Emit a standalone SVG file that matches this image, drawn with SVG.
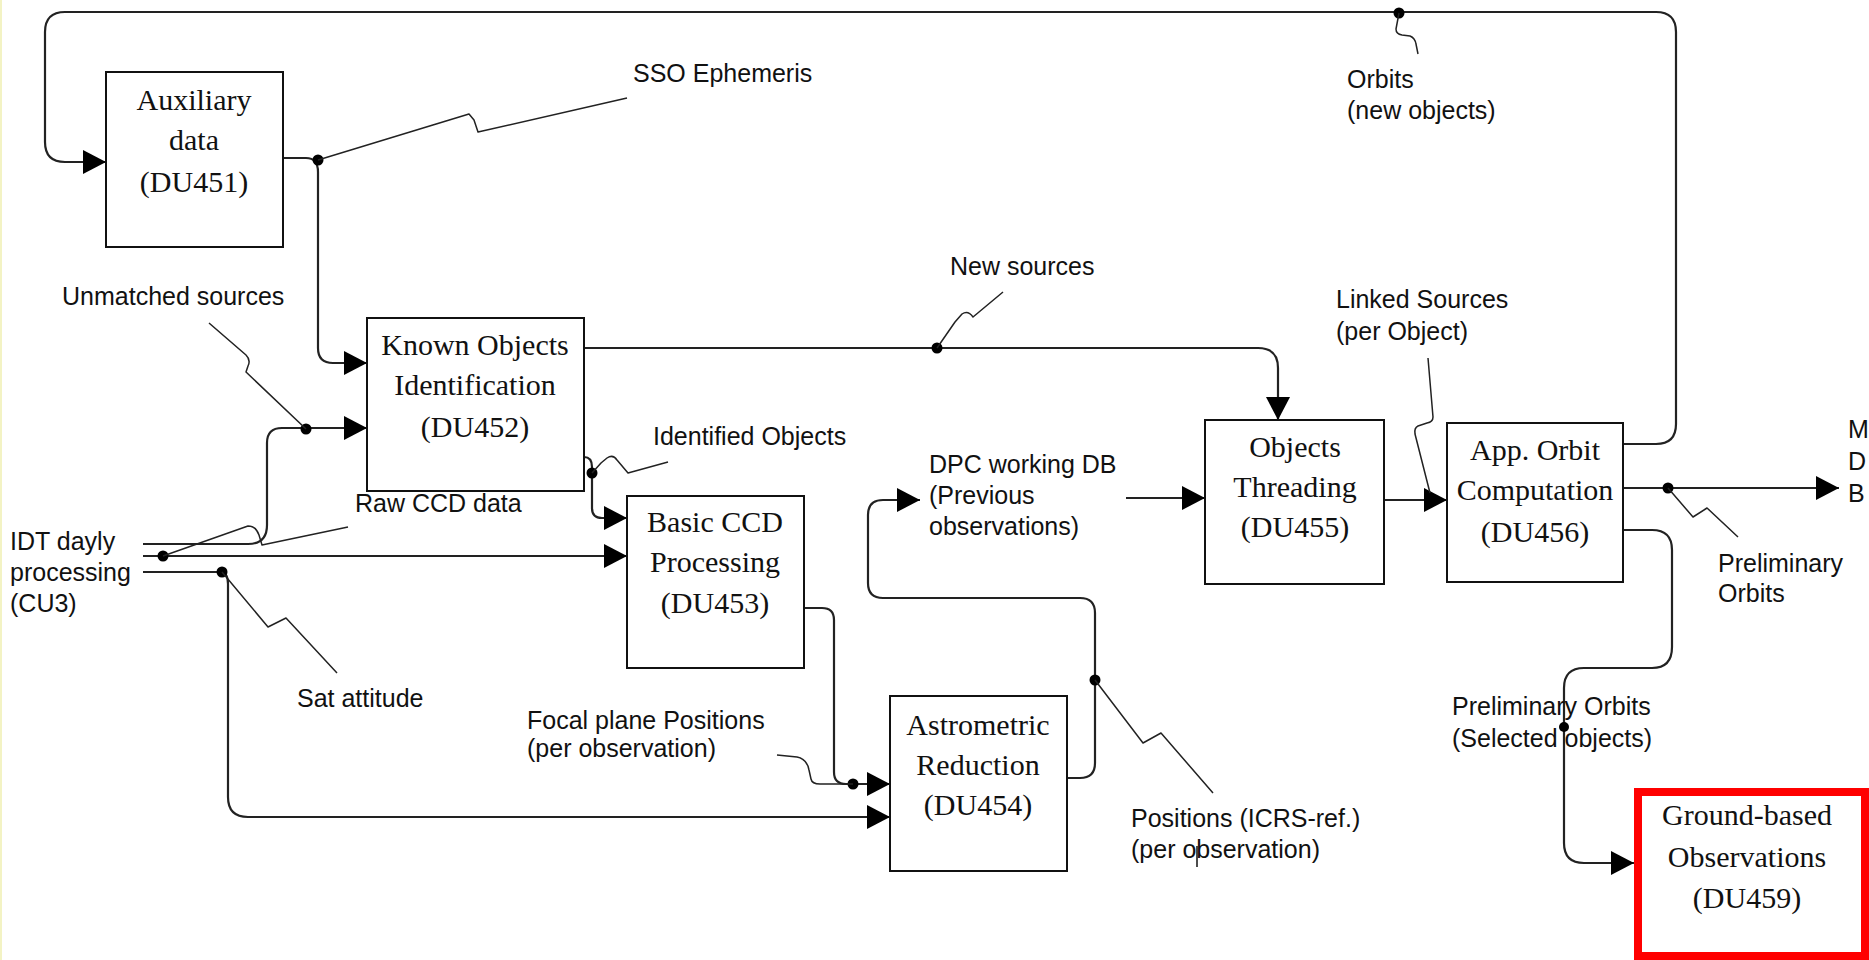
<svg xmlns="http://www.w3.org/2000/svg" width="1869" height="960" viewBox="0 0 1869 960">
  <style>
    .box { fill: #fff; stroke: #111; stroke-width: 2; }
    .box-red { fill: #fff; stroke: #f00; stroke-width: 8; }
    .name { font-family: "Liberation Serif", "Times New Roman", serif; font-size: 30px; fill: #111; text-anchor: middle; }
    .lbl { font-family: "Liberation Sans", Arial, sans-serif; font-size: 25px; fill: #111; }
    .flow { fill: none; stroke: #222; stroke-width: 2.2; }
    .flow-arrow { fill: none; stroke: #222; stroke-width: 2.2; marker-end: url(#tri); }
    .leader { fill: none; stroke: #222; stroke-width: 1.5; stroke-linejoin: round; }
    .dot { fill: #000; }
  </style>
  <defs>
    <marker id="tri" markerUnits="userSpaceOnUse" viewBox="0 0 23 24" markerWidth="23" markerHeight="24" refX="23" refY="12" orient="auto">
      <path d="M0,0 L23,12 L0,24 Z" fill="#000"/>
    </marker>
  </defs>

  <rect x="0" y="0" width="1869" height="960" fill="#fff"/>
  <rect x="0" y="0" width="2" height="960" fill="#f3f3c4"/>

  <!-- data flows -->
  <g id="connectors">
    <!-- orbits of new objects fed back to auxiliary data -->
    <path class="flow-arrow" d="M1623,444 H1656 Q1676,444 1676,424 V32 Q1676,12 1656,12 H65 Q45,12 45,32 V142 Q45,162 65,162 H106"/>
    <!-- auxiliary data to known objects identification -->
    <path class="flow-arrow" d="M283,158 H306 Q318,158 318,172 V348 Q318,363 333,363 H367"/>
    <!-- IDT outputs -->
    <path class="flow-arrow" d="M143,544 H248 Q267,544 267,525 V443 Q267,428 282,428 H367"/>
    <path class="flow-arrow" d="M143,556 H627"/>
    <path class="flow-arrow" d="M143,572 H220 Q228,572 228,584 V797 Q228,817 248,817 H890"/>
    <!-- new sources -->
    <path class="flow-arrow" d="M584,348 H1258 Q1278,348 1278,368 V420"/>
    <!-- identified objects -->
    <path class="flow-arrow" d="M584,457 Q592,457 592,467 V508 Q592,518 602,518 H627"/>
    <!-- basic CCD to astrometric reduction -->
    <path class="flow-arrow" d="M804,608 H822 Q834,608 834,620 V772 Q834,784 846,784 H890"/>
    <!-- positions into the DPC working DB -->
    <path class="flow-arrow" d="M1067,778 H1080 Q1095,778 1095,763 V613 Q1095,598 1080,598 H883 Q868,598 868,583 V515 Q868,500 883,500 H920"/>
    <!-- DPC working DB to threading -->
    <path class="flow-arrow" d="M1126,498 H1205"/>
    <!-- linked sources -->
    <path class="flow-arrow" d="M1384,500 H1447"/>
    <!-- preliminary orbits out -->
    <path class="flow-arrow" d="M1623,488 H1839"/>
    <!-- selected objects to ground-based observations -->
    <path class="flow-arrow" d="M1623,530 H1652 Q1672,530 1672,550 V647 Q1672,668 1652,668 H1584 Q1564,668 1564,688 V843 Q1564,863 1584,863 H1634"/>

    <!-- junction dots -->
    <circle class="dot" cx="1399" cy="13" r="5.5"/>
    <circle class="dot" cx="318" cy="160" r="5.5"/>
    <circle class="dot" cx="306" cy="429" r="5.5"/>
    <circle class="dot" cx="163" cy="556" r="5.5"/>
    <circle class="dot" cx="222" cy="572" r="5.5"/>
    <circle class="dot" cx="937" cy="348" r="5.5"/>
    <circle class="dot" cx="592" cy="473" r="5.5"/>
    <circle class="dot" cx="853" cy="784" r="5.5"/>
    <circle class="dot" cx="1095" cy="680" r="5.5"/>
    <circle class="dot" cx="1668" cy="488" r="5.5"/>
    <circle class="dot" cx="1564" cy="727" r="5"/>

    <!-- label leaders -->
    <path class="leader" d="M1399,13 L1396,29 Q1396,34 1402,35 L1410,36 Q1415,38 1416,44 L1418,54"/>
    <path class="leader" d="M318,160 L469,114 L474,120 L478,132 L627,98"/>
    <path class="leader" d="M209,323 L246,355 Q251,360 248,366 L246,372 L306,429"/>
    <path class="leader" d="M163,556 L248,526 Q256,526 259,535 L262,545 L348,527"/>
    <path class="leader" d="M222,572 L268,627 L286,618 L337,673"/>
    <path class="leader" d="M937,348 L955,322 L962,314 Q968,310 973,317 L1003,292"/>
    <path class="leader" d="M592,473 L601,463 L607,458 Q613,454 617,460 L628,473 L668,462"/>
    <path class="leader" d="M777,755 L797,757 Q807,759 809,770 L811,779 Q812,784 820,784 H853"/>
    <path class="leader" d="M1095,680 L1143,743 L1161,733 L1213,793"/>
    <path class="leader" d="M1428,358 L1433,417 Q1433,422 1427,423 L1418,426 Q1414,428 1415,434 L1430,493"/>
    <path class="leader" d="M1668,488 L1693,517 L1707,508 L1738,537"/>
  </g>

  <!-- processing units -->
  <g id="du451">
    <rect class="box" x="106" y="72" width="177" height="175"/>
    <text class="name" x="194" y="110">Auxiliary</text>
    <text class="name" x="194" y="150">data</text>
    <text class="name" x="194" y="192">(DU451)</text>
  </g>
  <g id="du452">
    <rect class="box" x="367" y="318" width="217" height="173"/>
    <text class="name" x="475" y="355">Known Objects</text>
    <text class="name" x="475" y="395">Identification</text>
    <text class="name" x="475" y="437">(DU452)</text>
  </g>
  <g id="du453">
    <rect class="box" x="627" y="496" width="177" height="172"/>
    <text class="name" x="715" y="532">Basic CCD</text>
    <text class="name" x="715" y="572">Processing</text>
    <text class="name" x="715" y="613">(DU453)</text>
  </g>
  <g id="du454">
    <rect class="box" x="890" y="696" width="177" height="175"/>
    <text class="name" x="978" y="735">Astrometric</text>
    <text class="name" x="978" y="775">Reduction</text>
    <text class="name" x="978" y="815">(DU454)</text>
  </g>
  <g id="du455">
    <rect class="box" x="1205" y="420" width="179" height="164"/>
    <text class="name" x="1295" y="457">Objects</text>
    <text class="name" x="1295" y="497">Threading</text>
    <text class="name" x="1295" y="537">(DU455)</text>
  </g>
  <g id="du456">
    <rect class="box" x="1447" y="423" width="176" height="159"/>
    <text class="name" x="1535" y="460">App. Orbit</text>
    <text class="name" x="1535" y="500">Computation</text>
    <text class="name" x="1535" y="542">(DU456)</text>
  </g>
  <g id="du459">
    <rect class="box-red" x="1638" y="792" width="227" height="164"/>
    <text class="name" x="1747" y="825">Ground-based</text>
    <text class="name" x="1747" y="867">Observations</text>
    <text class="name" x="1747" y="908">(DU459)</text>
  </g>

  <!-- external sources and sinks -->
  <g id="idt-cu3">
    <text class="lbl" x="10" y="550">IDT dayly</text>
    <text class="lbl" x="10" y="581">processing</text>
    <text class="lbl" x="10" y="612">(CU3)</text>
  </g>
  <g id="dpc-db">
    <text class="lbl" x="929" y="473">DPC working DB</text>
    <text class="lbl" x="929" y="504">(Previous</text>
    <text class="lbl" x="929" y="535">observations)</text>
  </g>
  <g id="mdb">
    <text class="lbl" x="1848" y="438">M</text>
    <text class="lbl" x="1848" y="470">D</text>
    <text class="lbl" x="1848" y="502">B</text>
  </g>

  <!-- flow labels -->
  <g id="labels">
    <text class="lbl" x="633" y="82">SSO Ephemeris</text>
    <text class="lbl" x="1347" y="88">Orbits</text>
    <text class="lbl" x="1347" y="119">(new objects)</text>
    <text class="lbl" x="62" y="305">Unmatched sources</text>
    <text class="lbl" x="950" y="275">New sources</text>
    <text class="lbl" x="1336" y="308">Linked Sources</text>
    <text class="lbl" x="1336" y="340">(per Object)</text>
    <text class="lbl" x="653" y="445">Identified Objects</text>
    <text class="lbl" x="355" y="512">Raw CCD data</text>
    <text class="lbl" x="1718" y="572">Preliminary</text>
    <text class="lbl" x="1718" y="602">Orbits</text>
    <text class="lbl" x="297" y="707">Sat attitude</text>
    <text class="lbl" x="527" y="729">Focal plane Positions</text>
    <text class="lbl" x="527" y="757">(per observation)</text>
    <text class="lbl" x="1452" y="715">Preliminary Orbits</text>
    <text class="lbl" x="1452" y="747">(Selected objects)</text>
    <text class="lbl" x="1131" y="827">Positions (ICRS-ref.)</text>
    <text class="lbl" x="1131" y="858">(per observation)</text>
    <line x1="1197" y1="846" x2="1197" y2="867" stroke="#111" stroke-width="1.5"/>
  </g>
</svg>
